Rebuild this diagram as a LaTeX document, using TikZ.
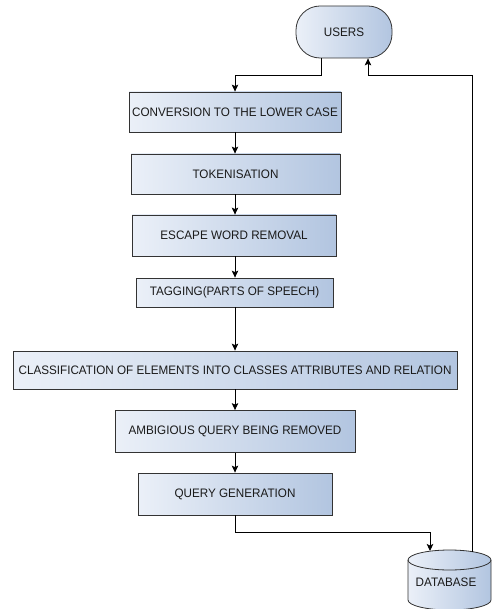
\documentclass[tikz,border=0pt]{standalone}
\usepackage{fontspec}
\setmainfont[FakeStretch=0.95]{Liberation Sans}
\usetikzlibrary{arrows.meta,positioning,calc}
\definecolor{boxL}{HTML}{EBF0F8}
\definecolor{boxR}{HTML}{B2C5E0}
\definecolor{edge}{HTML}{333333}
\definecolor{txt}{HTML}{1A1A1A}
\begin{document}
\begin{tikzpicture}[x=1pt,y=1pt,
  stepbox/.style={draw=edge,line width=0.8pt,left color=boxL,right color=boxR,
    text=txt,font=\fontsize{12.3}{14}\selectfont,inner sep=0pt},
  arr/.style={draw=black,line width=0.9pt,-{Stealth[length=7pt,width=6.5pt,inset=1.5pt]}},
  ln/.style={draw=black,line width=0.9pt}]
\useasboundingbox (0,0) rectangle (491,-609);
\node[stepbox,rounded corners=24pt,minimum width=96pt,minimum height=52pt] (users) at (344,-32) {USERS};
\node[stepbox,minimum width=212pt,minimum height=40pt] (b1) at (235,-112) {CONVERSION TO THE LOWER CASE};
\node[stepbox,minimum width=209pt,minimum height=40pt] (b2) at (235.5,-174) {TOKENISATION};
\node[stepbox,minimum width=204pt,minimum height=41pt] (b3) at (234,-235.5) {ESCAPE WORD REMOVAL};
\node[stepbox,minimum width=197pt,minimum height=29pt] (b4) at (234.5,-292.5) {TAGGING(PARTS OF SPEECH)};
\node[stepbox,minimum width=444pt,minimum height=38pt] (b5) at (235,-370) {CLASSIFICATION OF ELEMENTS INTO CLASSES ATTRIBUTES AND RELATION};
\node[stepbox,minimum width=240pt,minimum height=42pt] (b6) at (235,-431.5) {AMBIGIOUS QUERY BEING REMOVED};
\node[stepbox,minimum width=194pt,minimum height=42pt] (b7) at (235,-494) {QUERY GENERATION};
% database cylinder
\path[draw=edge,line width=0.8pt,left color=boxL,right color=boxR]
  (408,-560) -- (408,-600) arc[start angle=180,end angle=360,x radius=41.5,y radius=10]
  -- (491,-560) arc[start angle=0,end angle=180,x radius=41.5,y radius=10] -- cycle;
\draw[edge,line width=0.8pt] (408,-560) arc[start angle=180,end angle=360,x radius=41.5,y radius=10];
\node[text=txt,font=\fontsize{12.3}{14}\selectfont] (db) at (446,-582) {DATABASE};
\coordinate (dbin) at (430,-551);
\coordinate (dbout) at (472,-551.5);
% connectors
\draw[arr] ([xshift=-23pt]users.south) -- ++(0,-17) -| (b1.north);
\draw[arr] (b1.south -| 235,0) -- (b2.north -| 235,0);
\draw[arr] (b2.south -| 235,0) -- (b3.north -| 235,0);
\draw[arr] (b3.south -| 235,0) -- (b4.north -| 235,0);
\draw[arr] (b4.south -| 235,0) -- (b5.north -| 235,0);
\draw[arr] (b5.south) -- (b6.north);
\draw[arr] (b6.south) -- (b7.north);
\draw[arr] (b7.south) -- ++(0,-17) -| (dbin);
\draw[arr] (dbout) -- (472,-75) -| ([xshift=24pt]users.south);
\end{tikzpicture}
\end{document}
